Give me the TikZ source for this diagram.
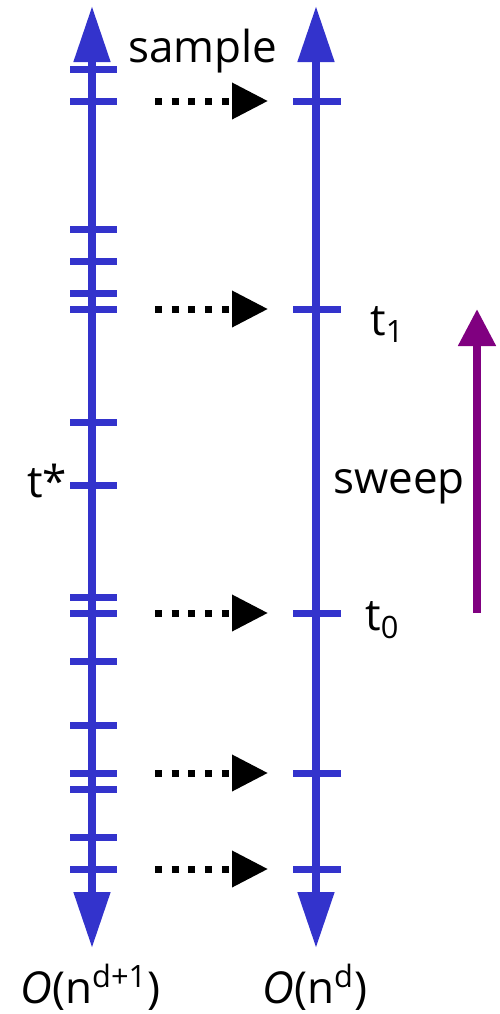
\documentclass[tikz,border=0pt]{standalone}
\usepackage{fontspec}
\setmainfont{Open Sans}
\usepackage{tikz}
\usetikzlibrary{arrows.meta, positioning}
\definecolor{axisblue}{HTML}{3333CC}
\definecolor{sweeppurple}{HTML}{800080}

\begin{document}
\begin{tikzpicture}[x=0.5pt, y=-0.5pt,
  axis/.style={axisblue, line width=4pt,
    {Triangle[length=28pt,width=17.5pt]}-{Triangle[length=28pt,width=17.5pt]}},
  tick/.style={axisblue, line width=3.5pt},
  samplearrow/.style={black, line width=3.5pt, dash pattern=on 3.5pt off 4.85pt,
    -{Triangle[length=18pt,width=17.5pt]}},
  sweeparrow/.style={sweeppurple, line width=4pt, -{Triangle[length=18.5pt,width=18pt]}},
  lbl/.style={anchor=base west, inner sep=0pt, font=\fontsize{22}{26}\selectfont}]
\useasboundingbox (0,0) rectangle (499,1014);

% the two axes
\coordinate (Ltop) at (92,6);
\coordinate (Lbot) at (92,948);
\coordinate (Rtop) at (316,6);
\coordinate (Rbot) at (316,948);
\draw[axis] (Ltop) -- (Lbot);
\draw[axis] (Rtop) -- (Rbot);

% ticks
\foreach \y in {69,101,229,261,293,309,422,485,597,613,661,725,773,789,837,869}
  \draw[tick] (70,\y) -- (117,\y);
\foreach \y in {101,309,613,773,869}
  \draw[tick] (293,\y) -- (341,\y);

% sampled points
\foreach \y [count=\i] in {101,309,613,773,869}{
  \coordinate (from\i) at (155,\y);
  \coordinate (to\i) at (268,\y);
  \draw[samplearrow] (from\i) -- (to\i);
}

% sweep
\coordinate (sweepstart) at (477,613);
\coordinate (sweepend) at (477,309);
\draw[sweeparrow] (sweepstart) -- (sweepend);

% labels
\node[lbl] (sample) at (128,62) {sample};
\node[lbl] (tone) at (370,335) {t\textsubscript{1}};
\node[lbl] (tstar) at (27,497) {t*};
\node[lbl] (sweep) at (333,493) {sweep};
\node[lbl] (tzero) at (365,630) {t\textsubscript{0}};
\node[lbl] (costL) at (20,1003) {\itshape O\upshape(n\textsuperscript{d+1})};
\node[lbl] (costR) at (262,1003) {\itshape O\upshape(n\textsuperscript{d})};
\end{tikzpicture}
\end{document}
